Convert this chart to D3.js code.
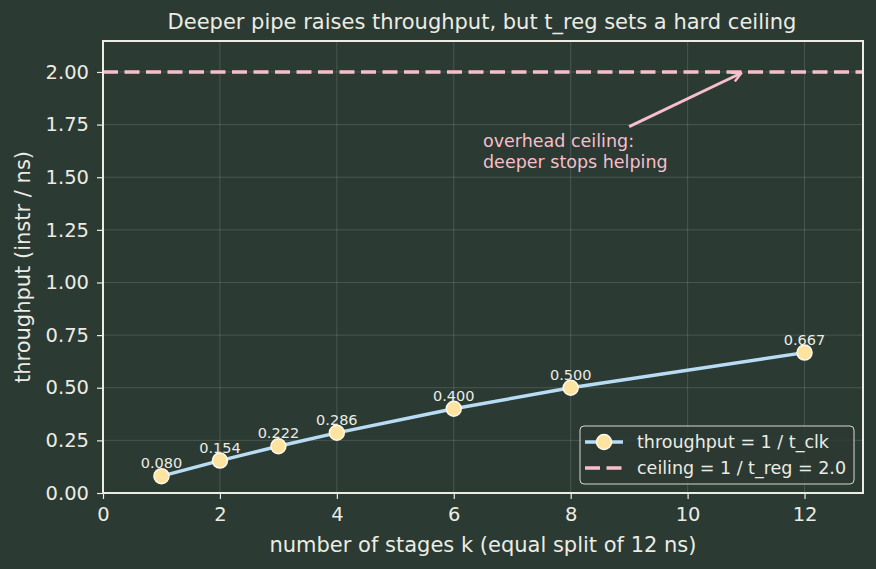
<!DOCTYPE html>
<html>
<head>
<meta charset="utf-8">
<script src="https://cdn.jsdelivr.net/npm/d3@7"></script>
<style>
  body { margin: 0; background: #2b3a33; }
  text { font-family: "DejaVu Sans", sans-serif; }
</style>
</head>
<body>
<div id="chart"></div>
<script>
// data
const stages = [1, 2, 3, 4, 6, 8, 12];
const throughput = [0.080, 0.154, 0.222, 0.286, 0.400, 0.500, 0.667];
const ceiling = 2.0;
const xTicks = [0, 2, 4, 6, 8, 10, 12];
const yTicks = [0, 0.25, 0.5, 0.75, 1.0, 1.25, 1.5, 1.75, 2.0];

const width = 876, height = 569;
const margin = {top: 41, right: 13, bottom: 76, left: 103};
const bg = "#2b3a33", fg = "#ecece4";
const lineColor = "#b9dcf5", dotColor = "#fde3a0", pink = "#f7bfcb";

const svg = d3.select("#chart").append("svg")
  .attr("width", width).attr("height", height)
  .style("background", bg);

const x = d3.scaleLinear().domain([0, 13]).range([margin.left, width - margin.right]);
const y = d3.scaleLinear().domain([0, 2.147]).range([height - margin.bottom, margin.top]);

// grid
svg.append("g").selectAll("line").data(xTicks).join("line")
  .attr("x1", d => x(d)).attr("x2", d => x(d))
  .attr("y1", y.range()[0]).attr("y2", y.range()[1])
  .attr("stroke", "#ffffff").attr("stroke-opacity", 0.15).attr("stroke-width", 1);
svg.append("g").selectAll("line").data(yTicks).join("line")
  .attr("x1", x.range()[0]).attr("x2", x.range()[1])
  .attr("y1", d => y(d)).attr("y2", d => y(d))
  .attr("stroke", "#ffffff").attr("stroke-opacity", 0.15).attr("stroke-width", 1);

// ceiling line
svg.append("line")
  .attr("x1", x.range()[0]).attr("x2", x.range()[1])
  .attr("y1", y(ceiling)).attr("y2", y(ceiling))
  .attr("stroke", pink).attr("stroke-width", 3.5)
  .attr("stroke-dasharray", "15,6.5");

// throughput line
const line = d3.line().x((d, i) => x(stages[i])).y(d => y(d));
svg.append("path").datum(throughput)
  .attr("d", line).attr("fill", "none")
  .attr("stroke", lineColor).attr("stroke-width", 3.4);

svg.append("g").selectAll("circle").data(throughput).join("circle")
  .attr("cx", (d, i) => x(stages[i])).attr("cy", d => y(d)).attr("r", 7.5)
  .attr("fill", dotColor).attr("stroke", "#fff8e8").attr("stroke-width", 1.5);

svg.append("g").selectAll("text").data(throughput).join("text")
  .attr("x", (d, i) => x(stages[i])).attr("y", d => y(d) - 8)
  .attr("text-anchor", "middle").attr("fill", fg)
  .attr("font-size", 14.5).style("font-size", "14.5px")
  .text(d => d.toFixed(3));

// axes frame
svg.append("rect")
  .attr("x", x.range()[0]).attr("y", y.range()[1])
  .attr("width", x.range()[1] - x.range()[0]).attr("height", y.range()[0] - y.range()[1])
  .attr("fill", "none").attr("stroke", fg).attr("stroke-width", 2);

const xAxis = svg.append("g")
  .attr("transform", `translate(0,${y.range()[0]})`)
  .call(d3.axisBottom(x).tickValues(xTicks).tickFormat(d3.format("d")).tickSize(6).tickPadding(8));
const yAxis = svg.append("g")
  .attr("transform", `translate(${x.range()[0]},0)`)
  .call(d3.axisLeft(y).tickValues(yTicks).tickFormat(d3.format(".2f")).tickSize(6).tickPadding(8));
[xAxis, yAxis].forEach(a => {
  a.attr("font-size", 19.5).attr("font-family", "DejaVu Sans, sans-serif");
  a.select(".domain").remove();
  a.selectAll(".tick line").attr("stroke", fg).attr("stroke-width", 1.2);
  a.selectAll(".tick text").attr("fill", fg).attr("font-size", 19.5)
    .style("font-size", "19.5px");
});

// labels
svg.append("text").attr("x", (x.range()[0] + x.range()[1]) / 2 - 1).attr("y", 29)
  .attr("text-anchor", "middle").attr("fill", fg).style("font-size", "21px")
  .text("Deeper pipe raises throughput, but t_reg sets a hard ceiling");
svg.append("text").attr("x", (x.range()[0] + x.range()[1]) / 2).attr("y", 552)
  .attr("text-anchor", "middle").attr("fill", fg).style("font-size", "21px")
  .text("number of stages k (equal split of 12 ns)");
svg.append("text")
  .attr("transform", `translate(30,${(y.range()[0] + y.range()[1]) / 2}) rotate(-90)`)
  .attr("text-anchor", "middle").attr("fill", fg).style("font-size", "21px")
  .text("throughput (instr / ns)");

// annotation
svg.append("defs").append("marker")
  .attr("id", "arr").attr("viewBox", "0 0 10 10").attr("refX", 9).attr("refY", 5)
  .attr("markerWidth", 4).attr("markerHeight", 4).attr("orient", "auto")
  .append("path").attr("d", "M1,1 L9,5 L1,9").attr("fill", "none")
  .attr("stroke", pink).attr("stroke-width", 2);
svg.append("line")
  .attr("x1", x(9)).attr("y1", y(1.74))
  .attr("x2", x(10.92)).attr("y2", y(1.995))
  .attr("stroke", pink).attr("stroke-width", 3).attr("marker-end", "url(#arr)");
const ann = svg.append("text").attr("fill", pink).style("font-size", "17.5px");
ann.append("tspan").attr("x", x(6.5)).attr("y", 147).text("overhead ceiling:");
ann.append("tspan").attr("x", x(6.5)).attr("y", 168).text("deeper stops helping");

// legend
const lg = svg.append("g").attr("transform", "translate(580,426)");
lg.append("rect").attr("width", 274).attr("height", 58).attr("rx", 4)
  .attr("fill", bg).attr("fill-opacity", 0.85)
  .attr("stroke", "#d8d8d0").attr("stroke-width", 1);
lg.append("line").attr("x1", 5).attr("x2", 43).attr("y1", 16).attr("y2", 16)
  .attr("stroke", lineColor).attr("stroke-width", 3.4);
lg.append("circle").attr("cx", 24).attr("cy", 16).attr("r", 7.5)
  .attr("fill", dotColor).attr("stroke", "#fff8e8").attr("stroke-width", 1.5);
lg.append("line").attr("x1", 5).attr("x2", 43).attr("y1", 42).attr("y2", 42)
  .attr("stroke", pink).attr("stroke-width", 3.5).attr("stroke-dasharray", "15,6.5");
lg.append("text").attr("x", 57).attr("y", 22).attr("fill", fg).style("font-size", "17.5px")
  .text("throughput = 1 / t_clk");
lg.append("text").attr("x", 57).attr("y", 48).attr("fill", fg).style("font-size", "17.5px")
  .text("ceiling = 1 / t_reg = 2.0");
</script>
</body>
</html>
